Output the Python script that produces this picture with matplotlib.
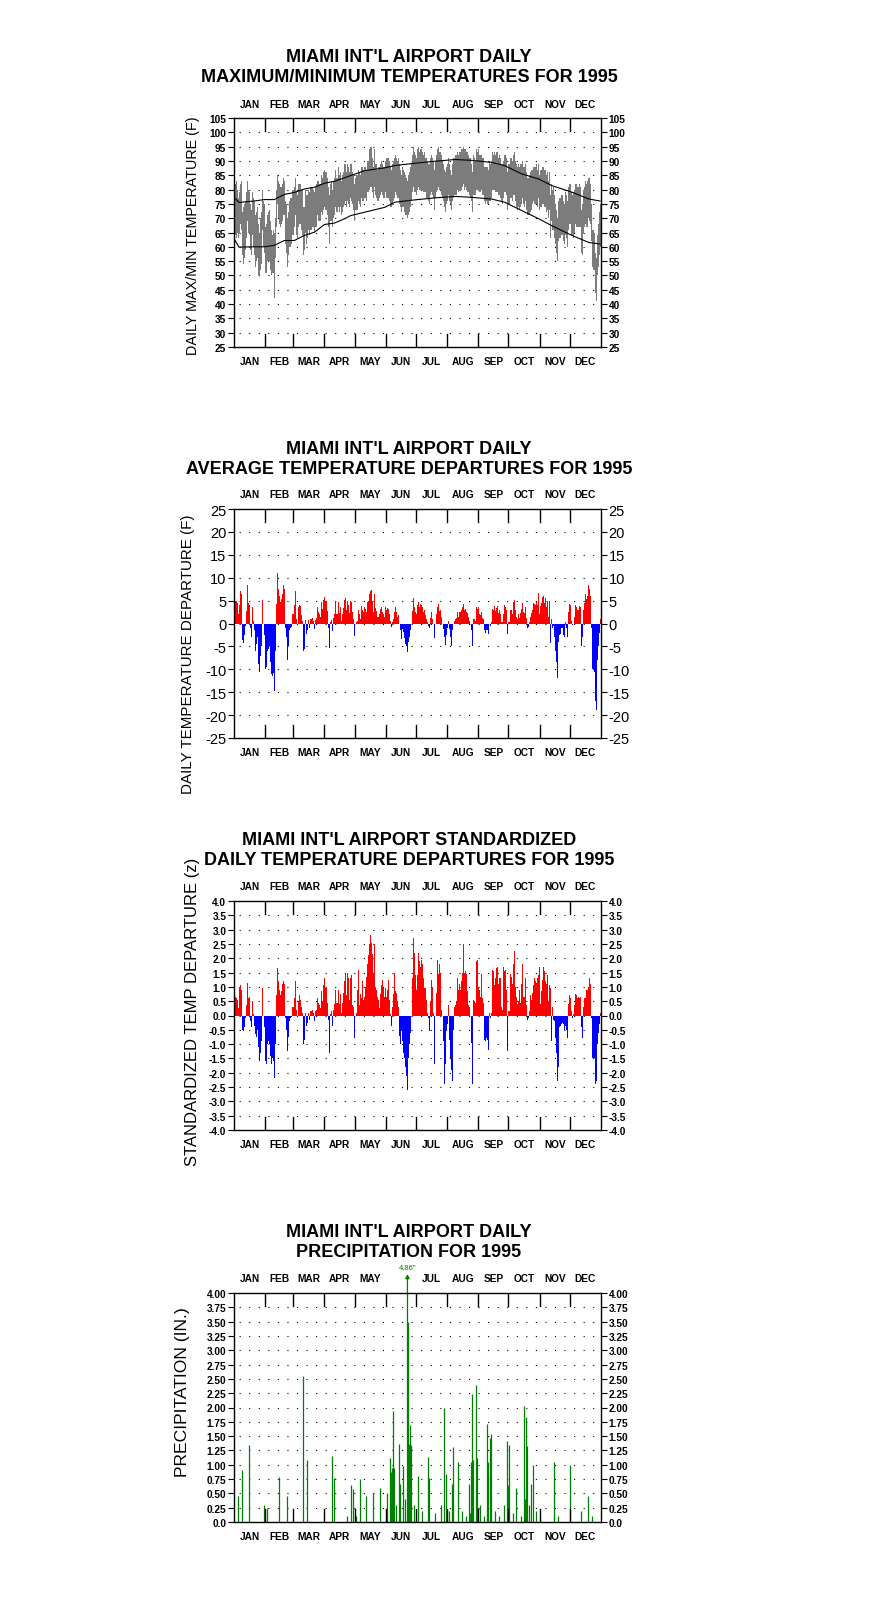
import numpy as np
import matplotlib
matplotlib.use("Agg")
import matplotlib.pyplot as plt
from matplotlib import transforms

plt.rcParams.update({"font.family": ["Liberation Sans", "DejaVu Sans"]})

W, H = 876, 1606
BOX_L, BOX_W, BOX_H = 234, 367, 229
TOPS = [119, 510, 902, 1294]
TITLE_X = 409

MONTHS = ["JAN", "FEB", "MAR", "APR", "MAY", "JUN", "JUL", "AUG", "SEP", "OCT", "NOV", "DEC"]
MONTH_START = [0, 31, 59, 90, 120, 151, 181, 212, 243, 273, 304, 334, 365]

# ---- panel 1: daily max / min (F), day 0 = Jan 1 ----
TMAX = [80, 82, 83, 80, 77, 79, 82, 83, 72, 74, 75, 76, 79, 83, 80, 79, 75, 73, 79, 77,
        76, 71, 72, 74, 68, 65, 70, 72, 80, 76,
        75, 67, 68, 71, 72, 73, 69, 66, 64, 66, 65, 70, 80, 85, 83, 82, 81, 81, 82, 84,
        83, 76, 75, 70, 72, 76, 77, 77, 80, 80,
        81, 84, 79, 78, 82, 82, 82, 80, 80, 74, 74, 80, 78, 78, 80, 79, 81, 81, 81, 80,
        79, 81, 82, 83, 83, 82, 82, 85, 84, 86,
        87, 86, 84, 81, 78, 82, 83, 80, 83, 84, 87, 84, 84, 88, 85, 86, 83, 85, 86, 89,
        89, 86, 89, 88, 86, 89, 89,
        86, 85, 82, 84, 85, 85, 87, 86, 85, 88, 88, 87, 88, 88, 87, 90, 90, 94, 95, 95,
        91, 88, 94, 89, 89, 87, 88, 88, 89, 90, 89, 88, 88, 90,
        91, 91, 91, 90, 88, 87, 89, 90, 91, 92, 91, 90, 91, 89, 87, 85, 88, 87, 86, 85,
        84, 83, 85, 86, 88, 89, 92, 95, 93, 92, 91, 94, 95, 93, 94, 94, 93, 92, 93, 91,
        91, 90, 89, 89, 91, 92, 91, 90, 87, 90, 92, 94, 95, 93, 93, 92, 90, 89, 87, 86,
        88, 89, 91, 89, 87, 85, 89, 91, 91, 92, 92, 93, 92, 93, 93, 94, 94, 95, 94, 94,
        93, 93, 92, 91, 91, 89, 86, 92,
        91, 90, 94, 93, 94, 92, 92, 92, 91, 91, 88, 88, 88, 88, 87, 90, 89, 90, 93, 92,
        93, 92, 93, 93, 91, 92, 91, 89, 89, 90, 92, 92, 91, 86, 89, 91, 91, 90, 92, 93,
        90, 89, 88, 89, 88, 89, 89, 90, 88, 88, 89, 86, 84, 84, 85, 86, 87, 87, 88, 88,
        88, 89,
        87, 89, 85, 87, 87, 88, 88, 87, 87, 85, 86, 83, 86, 78, 82, 80, 81, 78, 75, 73,
        70, 76, 77, 77, 78, 78, 76, 75, 79, 78, 76, 81, 82, 82, 79, 78, 79, 80, 82, 82,
        81, 81, 82, 81, 73, 75, 80, 81, 83, 82, 83, 84, 84, 82, 75, 66, 66, 65, 58, 56,
        64, 68, 72, 75]
TMIN = [64, 64, 63, 65, 63, 65, 68, 66, 57, 54, 56, 59, 63, 69, 65, 65, 59, 57, 64, 60,
        57, 53, 55, 56, 50, 50, 52, 54, 66, 60,
        58, 51, 51, 55, 55, 55, 52, 50, 51, 51, 42, 56, 67, 75, 70, 68, 67, 68, 69, 71,
        71, 61, 58, 53, 57, 60, 60, 61, 64, 64,
        67, 71, 64, 63, 67, 68, 68, 66, 64, 57, 59, 65, 61, 63, 66, 64, 66, 66, 67, 67,
        65, 67, 67, 71, 69, 69, 69, 72, 71, 73,
        74, 73, 71, 67, 61, 69, 69, 67, 70, 71, 74, 72, 72, 74, 72, 74, 71, 72, 74, 75,
        76, 74, 76, 75, 74, 77, 76,
        75, 73, 69, 73, 73, 73, 76, 75, 74, 77, 76, 76, 77, 77, 76, 79, 79, 80, 81, 81,
        79, 77, 81, 78, 77, 76, 76, 77, 78, 79, 78, 77, 77, 79,
        77, 77, 77, 76, 74, 74, 75, 76, 77, 79, 78, 77, 77, 75, 74, 72, 74, 74, 72, 71,
        71, 70, 71, 72, 74, 76, 79, 81, 79, 79, 78, 80, 81, 80, 80, 80, 80, 79, 79, 79,
        77, 77, 76, 75, 78, 79, 78, 77, 73, 77, 79, 80, 81, 80, 80, 78, 77, 76, 74, 72,
        75, 76, 78, 76, 75, 73, 76, 77, 78, 78, 78, 80, 79, 80, 80, 80, 81, 82, 80, 81,
        80, 79, 79, 78, 77, 76, 72, 78,
        78, 78, 80, 80, 80, 79, 79, 80, 78, 78, 76, 75, 76, 75, 75, 76, 76, 77, 80, 80,
        80, 79, 79, 79, 78, 78, 77, 76, 75, 77, 79, 79, 78, 73, 75, 77, 77, 76, 78, 78,
        76, 74, 73, 74, 73, 74, 75, 77, 75, 74, 76, 73, 71, 71, 71, 72, 73, 75, 76, 75,
        75, 75,
        74, 77, 73, 74, 74, 75, 75, 74, 74, 72, 73, 70, 73, 63, 69, 66, 66, 63, 61, 58,
        55, 62, 63, 63, 64, 64, 62, 61, 64, 63, 60, 66, 68, 68, 64, 64, 63, 65, 68, 67,
        67, 67, 67, 67, 58, 57, 65, 67, 68, 67, 67, 70, 69, 68, 62, 53, 52, 52, 44, 41,
        50, 53, 57, 60]
# normal max / min curves, read at a few days of the year
NORM_DAY = [0, 5, 20, 30, 40, 50, 60, 70, 80, 90, 100, 110, 116, 130, 150, 160, 180,
            200, 220, 236, 256, 269, 286, 303, 316, 336, 353, 364]
NORM_MAX = [77.3, 75.5, 76.0, 76.5, 76.5, 78.3, 79.0, 80.2, 80.8, 82.2, 82.9, 84.1, 84.9,
            86.6, 87.6, 88.4, 89.2, 89.9, 90.5, 90.2, 89.5, 88.4, 85.5, 83.7, 81.4,
            79.1, 76.7, 76.0]
NORM_MIN = [62.8, 59.9, 60.0, 60.0, 60.5, 62.2, 62.2, 64.0, 65.1, 67.8, 68.3, 69.8, 70.9,
            72.1, 73.8, 75.6, 76.4, 77.1, 77.6, 77.3, 76.7, 75.6, 72.7, 69.8, 67.4,
            64.0, 61.5, 61.0]

# ---- panel 2: daily average temperature departure (F) ----
DEP = [4, 5, 5, 4.5, 2, 4, 7, 6.5, -3.5, -4.2, -2.5, -0.5, 2.8, 8.3, 4.5, 4, -1, -3, 3.7, 0.5,
       -1.5, -6, -4.5, -3, -8.8, -10.5, -7, -5, 5.2, 0, -2.5, -10, -9.5, -6, -5.5, -5, -8.5,
       -11, -11.5, -10.7, -14.7, -6, 4.3, 11, 7.5, 6, 4.7, 5.3, 6.4, 8.3, 7.5, -1, -3, -7.9,
       -4.9, -1.5, -1, -0.7, 2, 2, 4, 7, 1, -0.3, 3.5, 4.1, 3.8, 1.8, 0.5, -6.1, -5.5, 0.7,
       -2.3, -1.5, 0.8, -1, 1, 0.9, 1.3, 0.6, -1.2, 0.8, 1.3, 3.5, 2.5, 2, 1.5, 4.8, 3.2, 5.2,
       5.8, 5, 2.7, -1, -5.3, 0.4, 0.8, -1.7, 1.3, 2, 5, 2, 2, 4.8, 2.3, 3.5, 0.5, 2, 3.4, 5.2,
       5.5, 3, 5, 4, 2.3, 5, 4.8, 2.5, 1, -2.8, 0, 0.3, 0.5, 3, 2, 1, 3.8, 3, 2.5, 3.5,
       3.2, 2.5, 4.8, 5, 6.5, 7, 7.4, 5, 2.5, 6.5, 3.3, 2.7, 1.5, 1.5, 2, 3.2, 3.6, 2.5, 2, 1.5,
       3.6, 3, 3.3, 3.2, 2, 0.5, -0.8, 0.3, 1, 2.5, 3.5, 2.5, 1.5, 1.8, 0, -1.5, -3.3, -1.2,
       -1.8, -3.2, -4.5, -5, -6.2, -4, -3, -1.5, 0, 2.7, 5.5, 3.5, 2.5, 2, 4, 4.7, 3.5, 4.2,
       4, 3.5, 2.5, 3, 1.8, 1, 0.3, -0.5, -1, 1.2, 2.5, 1, 0, -3.2, 0, 2, 3.5, 4.2, 2.8, 3,
       1.5, 0, -1.2, -3, -4.7, -2.5, -1, 0.5, -1.2, -3, -5, -1.5, 0, 0.6, 1, 1.2, 2.5, 1.5,
       2.5, 2.5, 3, 3.5, 4.2, 3, 3.2, 2.6, 2.2, 1.5, 0.5, 0, -1.5, -5, 1, 1, 0.5, 3.5, 3.2,
       3.5, 2, 1.8, 2.5, 1.3, 1, -1.5, -2, -1.4, -1.5, -2.3, 0, -0.5, 0.3, 3.2, 3, 3.8,
       2.8, 3.3, 3.8, 2.3, 3, 2, 0.3, 0.3, 2, 4, 3.5, 3, -2.3, 0.3, 3, 3, 2, 4.8, 5.2, 3,
       1.5, 1, 2, 1.3, 2.2, 3.2, 4.5, 2.5, 2.3, 3.7, 1.3, -1, -0.8, 0.3, 1.5, 2.3, 3, 4.5,
       4.3, 4, 4.6, 4, 6.7, 2, 3.8, 4.5, 5.8, 6, 4.5, 5.5, 3.5, 5, 1.5, 5, -4.3, 1, -1, -0.5,
       -3, -6, -8.5, -12, -4, -2.5, -2.3, -1, -1, -2.5, -3, 0.3, -1, -3, 2.5, 4.2, 4, 0.5,
       -0.3, 0, 1.5, 4, 3.5, 3, 3, 3.8, 3.7, -5, -3, 3, 4.5, 6.4, 5.4, 6, 8.4, 7.5, 6, -1,
       -10, -10, -10.5, -17, -18.8, -8, -5, -2, 1]

# ---- panel 3: standardized departure (z) ----
ZDEP = [0.55, 0.65, 0.6, 0.55, 0.25, 1.0, 1.05, 0.9, -0.5, -0.55, -0.4, -0.1, 0.35, 1.15, 0.6,
        0.65, -0.2, -0.4, 0.5, 0.05, -0.35, -0.65, -0.75, -0.5, -1.1, -1.6, -1.3, -0.9, 0.95, 0,
        -0.4, -1.6, -1.7, -1.0, -0.9, -1.0, -1.4, -1.7, -1.5, -1.6, -2.2, -1.0, 0.7, 1.65, 1.2,
        0.9, 0.7, 0.85, 1.1, 1.2, 1.1, -0.1, -0.5, -1.25, -0.75, -0.2, -0.1, -0.05, 0.3, 0.3,
        0.6, 1.2, 0.2, -0.05, 0.5, 0.7, 0.55, 0.3, 0.1, -1.0, -0.85, 0.1, -0.35, -0.25, 0.1,
        -0.15, 0.15, 0.15, 0.2, 0.1, -0.2, 0.15, 0.2, 0.6, 0.45, 0.35, 0.25, 0.85, 0.5, 1.05,
        1.3, 0.95, 0.45, -0.15, -1.3, 0.05, 0.15, -0.35, 0.2, 0.4, 0.9, 0.45, 0.45, 0.9, 0.4,
        0.75, 0.1, 0.45, 0.8, 1.2, 1.5, 0.7, 1.5, 1.3, 0.55, 1.3, 1.4, 0.35, 0.3, -0.8,
        0.0, 0.1, 0.9, 1.6, 0.35, 0.75, 0.6, 1.2, 0.55, 0.65, 1.0, 1.35, 1.8, 2.1, 2.5, 2.8,
        2.55, 2.15, 1.5, 2.5, 1.0, 0.9, 0.65, 0.55, 0.25, 0.75, 1.05, 1.25, 0.95, 0.65,
        0.95, 0.65, 0.9, 1.25, 0.55, 0.05, -0.35, 0.3, 0.75, 1.5, 0.85, 0.8, 0.5, 0.3, -0.7,
        -1.0, -0.55, -0.9, -1.3, -1.5, -1.8, -2.1, -2.6, -1.5, -1.0, -0.6, 0.0, 1.3, 2.7, 2.2,
        1.4, 0.9, 1.4, 2.2, 1.9, 1.7, 1.95, 1.8, 1.3, 0.95, 0.95, 0.55, 0.1, -0.1, -0.55, 0.5,
        1.25, 1.0, 0.1, -1.7, 0.0, 0.8, 1.95, 1.45, 1.8, 1.5, 0.2, 0.0, -0.9, -2.4, -1.7,
        -0.55, -0.3, 0.35, -0.85, -1.5, -1.9, -2.3, -0.5, 0.3, 0.35, 0.5, 1.3, 0.9, 1.1, 0.9,
        1.2, 1.5, 2.5, 1.5, 1.55, 1.45, 0.85, 0.35, 0.3, 0.0, -0.95, -2.4, 0.55, 0.5,
        0.45, 1.9, 1.95, 1.0, 0.9, 0.65, 1.45, 0.6, 0.45, -0.85, -0.9, -0.8, -0.85, -1.2, 0.1,
        -0.1, 0.1, 1.6, 1.55, 1.05, 1.3, 1.65, 1.7, 1.1, 1.3, 1.3, 0.3, 0.2, 1.7, 1.55,
        1.6, 0.9, -1.25, 0.15, 1.45, 1.35, 1.1, 1.8, 2.25, 1.0, 0.65, 0.4, 0.5, 0.9, 0.45,
        1.1, 1.8, 0.65, 0.65, 1.3, 0.35, -0.15, -0.1, 0.15, 0.7, 0.55, 0.8, 1.05, 1.3, 1.2,
        1.15, 1.3, 1.4, 1.7, 0.4, 0.85, 1.25, 1.7, 1.55, 1.2, 1.1, 1.4, 0.5, 1.05, 0.95,
        -0.9, 0.3, -0.15, -0.2, -0.8, -1.3, -2.3, -1.8, -0.4, -0.35, -0.3, -0.25, -0.3, -0.5,
        -0.35, -0.5, -0.8, 0.4, 0.7, 0.6, 0.15, -0.1, 0.05, 0.35, 0.75, 0.7, 0.6, 0.65, 0.6,
        0.65, -0.4, -0.8, 0.3, 0.6, 0.6, 0.9, 0.9, 1.0, 1.3, 1.1, -0.1, -1.5, -1.5, -1.5,
        -2.4, -2.3, -1.0, -0.6, -0.3, 0.1]

# ---- panel 4: daily precipitation (in.), only the wet days ----
PRCP_DAY = [3, 7, 14, 29, 32, 44, 52, 68, 72, 97, 99, 112, 116, 118, 121, 125, 131, 138, 145,
            152, 155, 156, 157, 158, 159, 161, 164, 165, 168, 170, 172, 173, 174, 175, 176,
            179, 182, 186, 192, 193, 199, 205, 208, 210, 213, 216, 217, 222, 226, 230, 233,
            234, 235, 236, 237, 240, 241, 244, 248, 251, 252, 254, 255, 259, 263, 268, 271,
            272, 273, 277, 280, 285, 288, 289, 290, 291, 293, 295, 297, 300, 304, 318, 322,
            334, 345, 352, 356]
PRCP_IN = [0.45, 0.91, 1.35, 0.3, 0.25, 0.79, 0.45, 2.55, 1.08, 1.15, 0.76, 0.1, 0.65, 0.58,
           0.1, 0.75, 0.45, 0.5, 0.6, 0.5, 1.12, 0.88, 0.94, 1.94, 0.94, 0.3, 1.36, 0.67, 0.98,
           0.4, 4.86, 3.5, 1.37, 1.69, 1.35, 0.3, 0.8, 0.2, 1.14, 0.76, 0.15, 0.3, 2.0, 0.83,
           0.2, 0.67, 1.31, 1.04, 0.2, 0.1, 0.67, 0.15, 1.05, 2.23, 1.08, 2.39, 1.12, 0.3, 0.1,
           1.72, 1.05, 1.47, 1.53, 0.2, 0.1, 0.3, 1.41, 0.65, 1.35, 0.15, 0.6, 0.1, 2.02, 0.4,
           1.84, 1.33, 0.3, 0.67, 1.0, 0.2, 0.1, 1.04, 0.1, 0.99, 0.2, 0.45, 0.1]

TITLES = [("MIAMI INT'L AIRPORT DAILY", "MAXIMUM/MINIMUM TEMPERATURES FOR 1995"),
          ("MIAMI INT'L AIRPORT DAILY", "AVERAGE TEMPERATURE DEPARTURES FOR 1995"),
          ("MIAMI INT'L AIRPORT STANDARDIZED", "DAILY TEMPERATURE DEPARTURES FOR 1995"),
          ("MIAMI INT'L AIRPORT DAILY", "PRECIPITATION FOR 1995")]
YLABELS = ["DAILY MAX/MIN TEMPERATURE (F)", "DAILY TEMPERATURE DEPARTURE (F)",
           "STANDARDIZED TEMP DEPARTURE (z)", "PRECIPITATION (IN.)"]
YLABEL_POS = [(193, 236), (188, 654), (193, 1012), (183, 1392)]
YLABEL_FS = [10.4, 10.9, 12.0, 12.6]

fig = plt.figure(figsize=(W / 100, H / 100), dpi=100)
days = np.arange(365) + 0.5


def make_axes(top):
    return fig.add_axes([BOX_L / W, 1 - (top + BOX_H) / H, BOX_W / W, BOX_H / H])


def frame(ax, i, ylim, ticks, labels, grid, fs, weight, hide_top=()):
    ax.set_xlim(0, 365)
    ax.set_ylim(*ylim)
    ax.set_xticks([])
    ax.set_yticks(ticks)
    ax.set_yticklabels(labels)
    ax.tick_params(axis="y", direction="out", length=4, width=0.8, left=True, right=True,
                   labelleft=True, labelright=True, labelsize=fs, pad=1.5)
    for t in ax.yaxis.get_major_ticks():
        t.label1.set_fontweight(weight)
        t.label2.set_fontweight(weight)
    for s in ax.spines.values():
        s.set_linewidth(1.0)
    ax.hlines(grid, 0, 365, colors="black", lw=0.8, linestyles=(4, (1, 7.6)), zorder=0)
    tr = transforms.blended_transform_factory(ax.transData, ax.transAxes)
    tick_len = 13 / BOX_H
    for b in MONTH_START[1:-1]:
        ax.plot([b, b], [1, 1 - tick_len], color="black", lw=1.0, transform=tr, zorder=5)
        ax.plot([b, b], [0, tick_len], color="black", lw=1.0, transform=tr, zorder=5)
    for m, name in enumerate(MONTHS):
        mid = (MONTH_START[m] + MONTH_START[m + 1]) / 2
        if name not in hide_top:
            ax.text(mid, 1 + 14.5 / BOX_H, name, transform=tr, ha="center", va="center",
                    fontsize=7.3, fontweight="bold", clip_on=False)
        ax.text(mid, -14 / BOX_H, name, transform=tr, ha="center", va="center",
                fontsize=7.3, fontweight="bold", clip_on=False)
    top = TOPS[i]
    fig.text(TITLE_X / W, 1 - (top - 61) / H, TITLES[i][0], ha="center", va="center",
             fontsize=13, fontweight="bold")
    fig.text(TITLE_X / W, 1 - (top - 41) / H, TITLES[i][1], ha="center", va="center",
             fontsize=13, fontweight="bold")
    x, y = YLABEL_POS[i]
    fig.text(x / W, 1 - y / H, YLABELS[i], rotation=90, ha="center", va="center",
             fontsize=YLABEL_FS[i])
    return tr


# panel 1
ax = make_axes(TOPS[0])
t1 = list(range(105, 24, -5))
frame(ax, 0, (25, 105), t1, [str(v) for v in t1], list(range(30, 101, 5)), 7.3, "bold")
tmax = np.array(TMAX, float)
tmin = np.array(TMIN, float)
ax.bar(days, tmax - tmin, bottom=tmin, width=1.0, color="#7c7c7c", linewidth=0, zorder=2)
ax.plot(NORM_DAY, NORM_MAX, color="black", lw=0.8, zorder=3)
ax.plot(NORM_DAY, NORM_MIN, color="black", lw=0.8, zorder=3)

# panel 2
ax = make_axes(TOPS[1])
t2 = list(range(25, -26, -5))
frame(ax, 1, (-25, 25), t2, [str(v) for v in t2], list(range(-20, 21, 5)), 10.5, "normal")
dep = np.array(DEP, float)
ax.bar(days, dep, width=1.0, color=np.where(dep >= 0, "#ff0000", "#0000ff"), linewidth=0,
       zorder=2)

# panel 3
ax = make_axes(TOPS[2])
t3 = [4 - 0.5 * k for k in range(17)]
frame(ax, 2, (-4, 4), t3, ["%.1f" % v for v in t3], [v for v in t3 if abs(v) < 4], 7.3,
      "bold")
z = np.array(ZDEP, float)
ax.bar(days, z, width=1.0, color=np.where(z >= 0, "#ff0000", "#0000ff"), linewidth=0,
       zorder=2)

# panel 4
ax = make_axes(TOPS[3])
t4 = [4 - 0.25 * k for k in range(17)]
lab4 = ["%.2f" % v for v in t4[:-1]] + ["0.0"]
tr = frame(ax, 3, (0, 4), t4, lab4, t4[1:-1], 7.3, "bold", hide_top=("JUN",))
pd_ = np.array(PRCP_DAY) + 0.5
pv = np.array(PRCP_IN)
ax.vlines(pd_, 0, np.minimum(pv, 4.0), colors="#008000", lw=0.9, zorder=2)
big = pv > 4.0
for xd, v in zip(pd_[big], pv[big]):
    ax.annotate("", xy=(xd, 1 + 19 / BOX_H), xytext=(xd, 1.0), xycoords=tr, textcoords=tr,
                arrowprops=dict(arrowstyle="-|>", color="#008000", lw=0.9,
                                mutation_scale=6, shrinkA=0, shrinkB=0))
    ax.text(xd, 1 + 26 / BOX_H, '%.2f"' % v, transform=tr, ha="center", va="center",
            fontsize=5.5, color="#008000", clip_on=False)

fig.savefig("out.png", dpi=100)
